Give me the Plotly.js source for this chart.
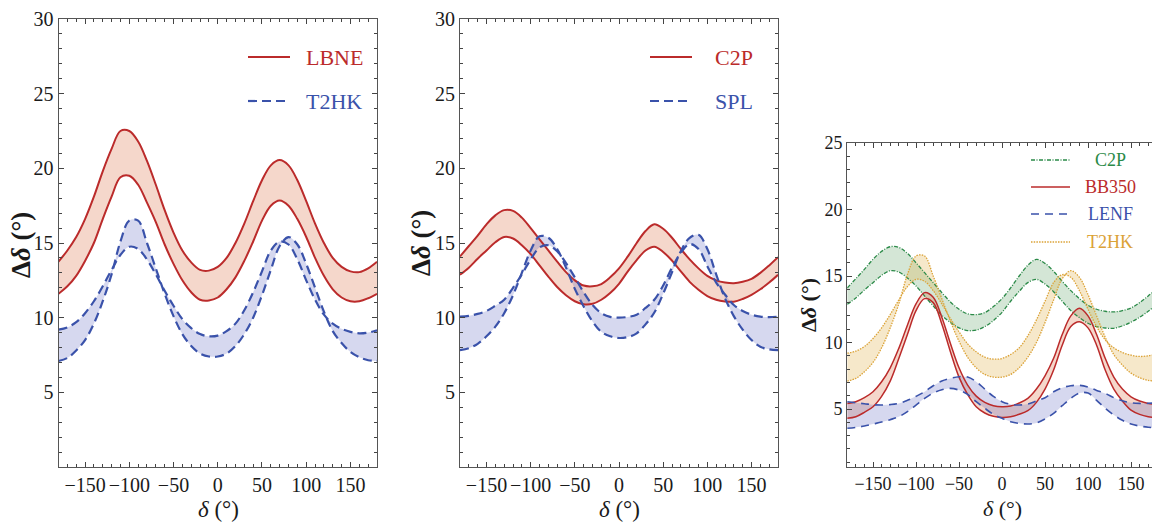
<!DOCTYPE html>
<html><head><meta charset="utf-8">
<script src="https://cdn.plot.ly/plotly-3.0.1.min.js"></script>
<style>html,body{margin:0;padding:0;background:#fff}#chart{width:1152px;height:523px}</style>
</head><body><div id="chart"></div>
<script>
// delta (degrees) sampling grid
const delta = [-180,-170,-160,-150,-140,-130,-120,-110,-100,-90,-80,-70,-60,-50,-40,-30,-20,-10,0,10,20,30,40,50,60,70,80,90,100,110,120,130,140,150,160,170,180];

// Panel 1: LBNE / T2HK
const lbneUpper = [13.75,14.5,15.4,16.6,18.1,19.8,21.3,22.5,22.5,21.8,20.5,18.9,17.2,15.7,14.5,13.7,13.2,13.15,13.4,14.0,15.0,16.3,17.8,19.2,20.2,20.55,20.2,19.2,17.8,16.3,15.0,14.0,13.4,13.1,13.05,13.3,13.75];
const lbneLower = [11.6,12.1,12.8,13.8,15.0,16.6,18.1,19.4,19.5,18.9,17.7,16.4,14.9,13.6,12.5,11.7,11.2,11.15,11.35,11.9,12.7,13.8,15.1,16.5,17.5,17.85,17.5,16.6,15.4,14.0,12.8,11.9,11.35,11.1,11.1,11.3,11.6];
const t2hkSharp = [7.1,7.3,7.8,8.5,9.6,11.1,12.9,15.1,16.5,16.5,15.0,13.3,11.6,10.1,8.9,8.1,7.6,7.4,7.4,7.6,8.1,8.9,10.0,11.5,13.2,14.8,15.4,14.9,13.6,12.0,10.4,9.1,8.3,7.7,7.35,7.15,7.1];
const t2hkBroad = [9.2,9.35,9.7,10.3,11.1,12.1,13.2,14.2,14.75,14.6,13.9,12.9,11.8,10.8,9.9,9.3,8.9,8.75,8.8,9.1,9.6,10.5,11.7,13.1,14.5,15.1,14.9,13.9,12.5,11.2,10.2,9.6,9.25,9.05,8.95,9.0,9.15];

// Panel 2: C2P / SPL
const c2pUpper = [14.1,14.8,15.5,16.25,16.85,17.2,17.15,16.7,16.0,15.25,14.5,13.75,13.05,12.5,12.15,12.1,12.25,12.7,13.3,14.1,15.0,15.8,16.25,15.95,15.35,14.6,13.9,13.3,12.8,12.5,12.35,12.3,12.4,12.6,13.0,13.5,14.05];
const c2pLower = [12.87,13.35,13.95,14.5,15.05,15.4,15.3,14.85,14.25,13.5,12.75,12.05,11.5,11.1,10.9,10.93,11.2,11.65,12.27,13.1,13.85,14.5,14.75,14.4,13.82,13.1,12.4,11.87,11.45,11.2,11.09,11.07,11.25,11.53,11.9,12.35,12.87];
const splSharp = [7.82,7.95,8.25,8.75,9.4,10.3,11.5,13.0,14.5,15.45,15.35,14.6,13.35,11.93,10.75,9.75,9.05,8.75,8.64,8.7,8.95,9.55,10.35,11.6,13.04,14.45,15.35,15.55,14.6,12.9,11.3,10.1,9.2,8.5,8.05,7.88,7.82];
const splBroad = [10.07,10.12,10.25,10.45,10.8,11.2,12.0,12.9,13.9,14.7,14.85,14.45,13.65,12.7,11.7,10.85,10.3,10.05,10.0,10.05,10.2,10.65,11.2,12.15,13.35,14.35,14.93,14.6,13.45,12.35,11.55,10.85,10.45,10.2,10.07,10.04,10.07];

// Panel 3: C2P (as above), BB350, LENF, T2HK (as panel 1)
const bb350Upper = [5.42,5.55,5.85,6.3,7.05,8.1,9.56,11.3,12.9,13.75,13.4,11.9,9.93,8.1,6.8,5.97,5.5,5.25,5.17,5.22,5.45,5.8,6.5,7.5,8.81,10.6,12.0,12.57,12.0,10.6,8.81,7.4,6.5,5.92,5.6,5.42,5.35];
const bb350Lower = [4.3,4.42,4.75,5.17,5.95,7.1,8.8,10.6,12.4,13.3,13.0,11.4,9.31,7.4,6.1,5.17,4.7,4.45,4.37,4.42,4.6,4.87,5.5,6.5,7.93,9.8,11.2,11.56,11.1,9.8,7.93,6.5,5.6,4.92,4.6,4.42,4.35];
const lenfA = [5.55,5.47,5.4,5.32,5.3,5.33,5.42,5.65,5.95,6.3,6.75,7.1,7.3,7.43,7.4,7.05,6.5,5.95,5.55,5.35,5.3,5.37,5.6,5.85,6.3,6.6,6.75,6.78,6.65,6.4,6.17,5.85,5.62,5.47,5.42,5.43,5.47];
const lenfB = [3.55,3.62,3.72,3.87,4.02,4.2,4.42,4.8,5.3,5.8,6.2,6.45,6.55,6.42,6.1,5.55,5.05,4.6,4.3,4.05,3.92,3.87,3.95,4.25,4.67,5.25,5.8,6.2,6.2,5.65,5.05,4.55,4.15,3.87,3.72,3.63,3.59];

// Tick labels
const xTicks = [-150,-100,-50,0,50,100,150];
const yTicks12 = [5,10,15,20,25,30];
const yTicks3 = [5,10,15,20,25];

// Legend labels
const legend1 = ['LBNE','T2HK'];
const legend2 = ['C2P','SPL'];
const legend3 = ['C2P','BB350','LENF','T2HK'];

const W=1152, H=523;
const px = x => x/W, py = y => 1 - y/H;
const SERIF = '"Liberation Serif", "Times New Roman", serif';
const RED='#bb2b2b', BLUE='#3a52aa', GREEN='#2b8a48', GOLD='#dba236';
const F_RED='rgba(220,110,70,0.28)', F_BLUE='rgba(90,100,190,0.25)', F_GREEN='rgba(40,130,50,0.2)', F_GOLD='rgba(220,170,60,0.27)';

function band(lo, hi, color, xa, ya){
  return [
    {x:delta, y:lo, xaxis:xa, yaxis:ya, mode:'lines', line:{width:0, shape:'spline'}, hoverinfo:'skip', showlegend:false},
    {x:delta, y:hi, xaxis:xa, yaxis:ya, mode:'lines', line:{width:0, shape:'spline'}, fill:'tonexty', fillcolor:color, hoverinfo:'skip', showlegend:false}
  ];
}
function curve(y, color, width, dash, xa, ya){
  return {x:delta, y:y, xaxis:xa, yaxis:ya, mode:'lines', line:{color:color, width:width, dash:dash, shape:'spline'}, hoverinfo:'skip', showlegend:false};
}

const D12 = '9px,5px';
const traces = [
  ...band(lbneLower, lbneUpper, F_RED, 'x','y'),
  ...band(t2hkSharp, t2hkBroad, F_BLUE, 'x','y'),
  curve(lbneUpper, RED, 2, 'solid', 'x','y'),
  curve(lbneLower, RED, 2, 'solid', 'x','y'),
  curve(t2hkSharp, BLUE, 2.2, D12, 'x','y'),
  curve(t2hkBroad, BLUE, 2.2, D12, 'x','y'),

  ...band(c2pLower, c2pUpper, F_RED, 'x2','y2'),
  ...band(splSharp, splBroad, F_BLUE, 'x2','y2'),
  curve(c2pUpper, RED, 2, 'solid', 'x2','y2'),
  curve(c2pLower, RED, 2, 'solid', 'x2','y2'),
  curve(splSharp, BLUE, 2.2, D12, 'x2','y2'),
  curve(splBroad, BLUE, 2.2, D12, 'x2','y2'),

  ...band(c2pLower, c2pUpper, F_GREEN, 'x3','y3'),
  ...band(t2hkSharp, t2hkBroad, F_GOLD, 'x3','y3'),
  ...band(bb350Lower, bb350Upper, F_RED, 'x3','y3'),
  ...band(lenfB, lenfA, F_BLUE, 'x3','y3'),
  curve(c2pUpper, GREEN, 1.3, '4px,1.5px,1px,1.5px', 'x3','y3'),
  curve(c2pLower, GREEN, 1.3, '4px,1.5px,1px,1.5px', 'x3','y3'),
  curve(t2hkSharp, GOLD, 1.3, '1.5px,1.2px', 'x3','y3'),
  curve(t2hkBroad, GOLD, 1.3, '1.5px,1.2px', 'x3','y3'),
  curve(bb350Upper, RED, 1.5, 'solid', 'x3','y3'),
  curve(bb350Lower, RED, 1.5, 'solid', 'x3','y3'),
  curve(lenfA, BLUE, 1.6, '8px,6px', 'x3','y3'),
  curve(lenfB, BLUE, 1.6, '8px,6px', 'x3','y3')
];

function xax(dom, range, fs, anchor){
  return {domain:dom, range:range, anchor:anchor, tickmode:'array', tickvals:xTicks,
    ticks:'inside', ticklen:5, tickwidth:1, tickcolor:'#444',
    showline:true, linecolor:'#555', linewidth:1, mirror:'ticks',
    showgrid:false, zeroline:false,
    tickfont:{family:SERIF, size:fs, color:'#1a1a1a'},
    minor:{tickmode:'linear', tick0:0, dtick:10, ticks:'inside', ticklen:3, tickcolor:'#444', showgrid:false},
    fixedrange:true};
}
function yax(dom, range, vals, fs, anchor, mirror){
  return {domain:dom, range:range, anchor:anchor, tickmode:'array', tickvals:vals,
    ticks:'inside', ticklen:5, tickwidth:1, tickcolor:'#444',
    showline:true, linecolor:'#555', linewidth:1, mirror:mirror,
    showgrid:false, zeroline:false,
    tickfont:{family:SERIF, size:fs, color:'#1a1a1a'},
    minor:{tickmode:'linear', tick0:0, dtick:1, ticks:'inside', ticklen:3, tickcolor:'#444', showgrid:false},
    fixedrange:true};
}

const yDom12 = [py(467), py(19)];
const yDom3 = [py(467), py(143)];

const annotations = [];
const shapes = [];
function txt(x, y, text, size, color, opts){
  annotations.push(Object.assign({xref:'paper', yref:'paper', x:px(x), y:py(y), text:text, showarrow:false,
    font:{family:SERIF, size:size, color:color}, xanchor:'center', yanchor:'middle'}, opts||{}));
}
function seg(x0, x1, y, color, width, dash){
  shapes.push({type:'line', xref:'paper', yref:'paper', x0:px(x0), x1:px(x1), y0:py(y), y1:py(y),
    line:{color:color, width:width, dash:dash}});
}

// axis titles
const yTitle = '<b>Δ<i>δ</i> (°)</b>';
const xTitle = '<i>δ</i> (°)';
txt(21, 245, yTitle, 27, '#1a1a1a', {textangle:-90});
txt(421, 243, yTitle, 27, '#1a1a1a', {textangle:-90});
txt(808, 305, yTitle, 22, '#1a1a1a', {textangle:-90});
txt(218, 509, xTitle, 23, '#1a1a1a');
txt(619, 509, xTitle, 23, '#1a1a1a');
txt(1002, 508, xTitle, 22, '#1a1a1a');

// legends
seg(248, 290, 57, RED, 2, 'solid');
seg(248, 290, 101, BLUE, 2.2, D12);
txt(304, 57, legend1[0], 22, RED, {xanchor:'left'});
txt(304, 101, legend1[1], 22, BLUE, {xanchor:'left'});

seg(650, 692, 57, RED, 2, 'solid');
seg(650, 692, 101, BLUE, 2.2, D12);
txt(713, 57, legend2[0], 22, RED, {xanchor:'left'});
txt(713, 101, legend2[1], 22, BLUE, {xanchor:'left'});

const l3y = [160, 187, 214, 242];
const l3c = [GREEN, RED, BLUE, GOLD];
const l3d = ['4px,1.5px,1px,1.5px', 'solid', '8px,6px', '1.5px,1.2px'];
for (let i=0;i<4;i++){
  seg(1031, 1070, l3y[i], l3c[i], i===1?1.5:1.4, l3d[i]);
  txt(1110, l3y[i], legend3[i], 18, l3c[i]);
}

const layout = {
  width:W, height:H, margin:{l:0,r:0,t:0,b:0},
  paper_bgcolor:'#fff', plot_bgcolor:'#fff', showlegend:false,
  xaxis: xax([px(58.5), px(377)], [-180,180], 20, 'y'),
  yaxis: yax(yDom12, [0,30], yTicks12, 20, 'x', 'ticks'),
  xaxis2: xax([px(460), px(778)], [-180,180], 20, 'y2'),
  yaxis2: yax(yDom12, [0,30], yTicks12, 20, 'x2', 'ticks'),
  xaxis3: xax([px(847.2), 1], [-180,174.4], 18, 'y3'),
  yaxis3: yax(yDom3, [0.64,25], yTicks3, 18, 'x3', false),
  annotations: annotations,
  shapes: shapes
};

Plotly.newPlot('chart', traces, layout, {displayModeBar:false, staticPlot:true});
</script>
</body></html>
